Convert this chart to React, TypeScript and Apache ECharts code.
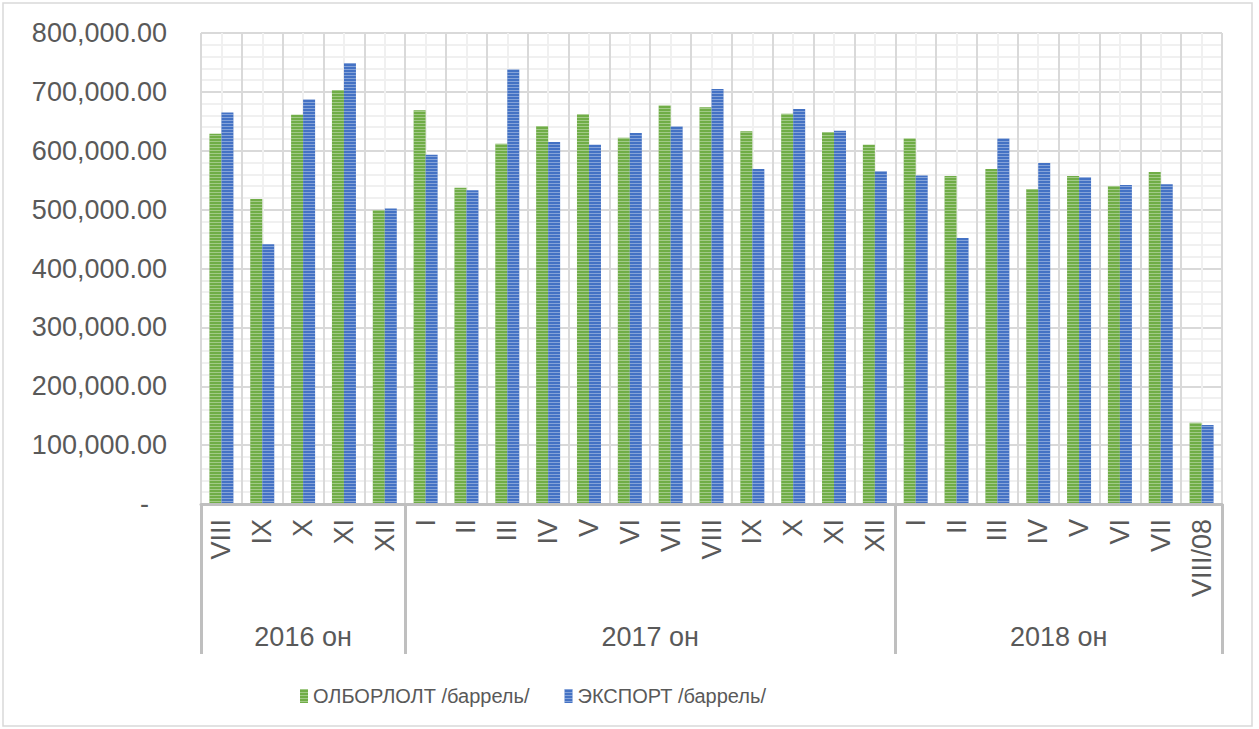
import React, { useEffect, useRef } from 'react';
import * as echarts from 'echarts';

const months = ['VIII', 'IX', 'X', 'XI', 'XII', 'I', 'II', 'III', 'IV', 'V', 'VI', 'VII', 'VIII', 'IX', 'X', 'XI', 'XII', 'I', 'II', 'III', 'IV', 'V', 'VI', 'VII', 'VIII/08'];
const years = ['2016 он', '2017 он', '2018 он'];
const groupSizes = [5, 12, 8];
const olborlolt = [629000, 518000, 661000, 703000, 499000, 669000, 537000, 612000, 642000, 662000, 622000, 677000, 674000, 633000, 663000, 632000, 610000, 621000, 557000, 569000, 535000, 557000, 540000, 564000, 138000];
const exportVals = [665000, 441000, 687000, 749000, 502000, 593000, 533000, 738000, 615000, 610000, 630000, 641000, 705000, 569000, 671000, 634000, 565000, 558000, 452000, 621000, 579000, 555000, 542000, 543000, 134000];
const seriesNames = ['ОЛБОРЛОЛТ /баррель/', 'ЭКСПОРТ /баррель/'];
const yTicks = [0, 100000, 200000, 300000, 400000, 500000, 600000, 700000, 800000];

const FONT = "'Liberation Sans', Arial, sans-serif";
const TXT = '#595959';

export default function App() {
  const ref = useRef<HTMLDivElement>(null);
  useEffect(() => {
    if (!ref.current) return;
    const chart = echarts.init(ref.current, undefined, { renderer: 'svg' });
    const categories = months.map((m, i) => `${i}:${m}`);
    const boundaries: number[] = [0];
    groupSizes.forEach((s) => boundaries.push(boundaries[boundaries.length - 1] + s));
    const centers = groupSizes.map((s, i) => boundaries[i] + s / 2);
    const total = months.length;

    const stripe = {
      symbol: 'rect',
      symbolSize: 1,
      color: 'rgba(255,255,255,0.35)',
      dashArrayX: [1, 0],
      dashArrayY: [1, 2],
      rotation: 0,
    };

    chart.setOption({
      animation: false,
      backgroundColor: '#ffffff',
      textStyle: { fontFamily: FONT },
      grid: { left: 201, right: 37, top: 33, bottom: 225, containLabel: false },
      legend: {
        left: 295,
        top: 681,
        itemWidth: 8,
        itemHeight: 14,
        itemGap: 35,
        icon: 'rect',
        textStyle: { fontSize: 20, color: TXT, fontFamily: FONT },
        data: seriesNames,
      },
      graphic: [
        {
          type: 'rect',
          shape: { x: 3, y: 3, width: 1249, height: 723 },
          style: { fill: 'none', stroke: '#d9d9d9', lineWidth: 1.5 },
          silent: true,
        },
      ],
      xAxis: [
        {
          type: 'category',
          data: categories,
          position: 'bottom',
          axisLine: { show: true, lineStyle: { color: '#bfbfbf', width: 3 } },
          axisTick: { show: false },
          splitLine: { show: false },
          axisLabel: {
            interval: 0,
            rotate: 90,
            margin: 15,
            fontSize: 27,
            color: TXT,
            fontFamily: FONT,
            formatter: (_v: string, idx: number) => months[idx],
          },
          z: 5,
        },
        {
          type: 'value',
          min: 0,
          max: total,
          interval: 1,
          position: 'bottom',
          axisLine: { show: false },
          axisTick: { show: false },
          axisLabel: { show: false },
          splitLine: { show: true, lineStyle: { color: '#d9d9d9', width: 2 } },
          minorTick: { show: false, splitNumber: 2 },
          minorSplitLine: { show: true, lineStyle: { color: '#f0f0f0', width: 2 } },
        },
        {
          type: 'value',
          min: 0,
          max: total,
          position: 'bottom',
          axisLine: { show: false },
          splitLine: { show: false },
          axisTick: {
            show: true,
            customValues: boundaries,
            length: 150,
            lineStyle: { color: '#bfbfbf', width: 3 },
          },
          axisLabel: {
            show: true,
            customValues: centers,
            margin: 119,
            fontSize: 27,
            color: TXT,
            fontFamily: FONT,
            formatter: (v: number) => {
              const k = centers.indexOf(v);
              return k >= 0 ? years[k] : '';
            },
          },
        },
      ],
      yAxis: {
        type: 'value',
        min: yTicks[0],
        max: yTicks[yTicks.length - 1],
        interval: yTicks[1] - yTicks[0],
        axisLine: { show: false },
        axisTick: { show: false },
        splitLine: { show: true, lineStyle: { color: '#d9d9d9', width: 2 } },
        minorTick: { show: false, splitNumber: 5 },
        minorSplitLine: { show: true, lineStyle: { color: '#f0f0f0', width: 2 } },
        axisLabel: {
          margin: 34,
          fontSize: 27,
          color: TXT,
          fontFamily: FONT,
          formatter: (v: number) =>
            v === 0
              ? '{dash|-}'
              : v.toLocaleString('en-US', { minimumFractionDigits: 2, maximumFractionDigits: 2 }),
          rich: { dash: { fontSize: 27, color: TXT, padding: [0, 18, 0, 0] } },
        },
      },
      series: [
        {
          name: seriesNames[0],
          type: 'bar',
          xAxisIndex: 0,
          data: olborlolt,
          barWidth: 12,
          barGap: '0%',
          itemStyle: { color: '#70ad47', decal: stripe },
          z: 3,
        },
        {
          name: seriesNames[1],
          type: 'bar',
          xAxisIndex: 0,
          data: exportVals,
          barWidth: 12,
          barGap: '0%',
          itemStyle: { color: '#4472c4', decal: stripe },
          z: 3,
        },
      ],
    });
    return () => chart.dispose();
  }, []);
  return (
    <div style={{ position: 'absolute', left: 0, top: 0, width: 1259, height: 729, background: '#fff' }}>
      <div ref={ref} style={{ width: 1259, height: 729 }} />
    </div>
  );
}
